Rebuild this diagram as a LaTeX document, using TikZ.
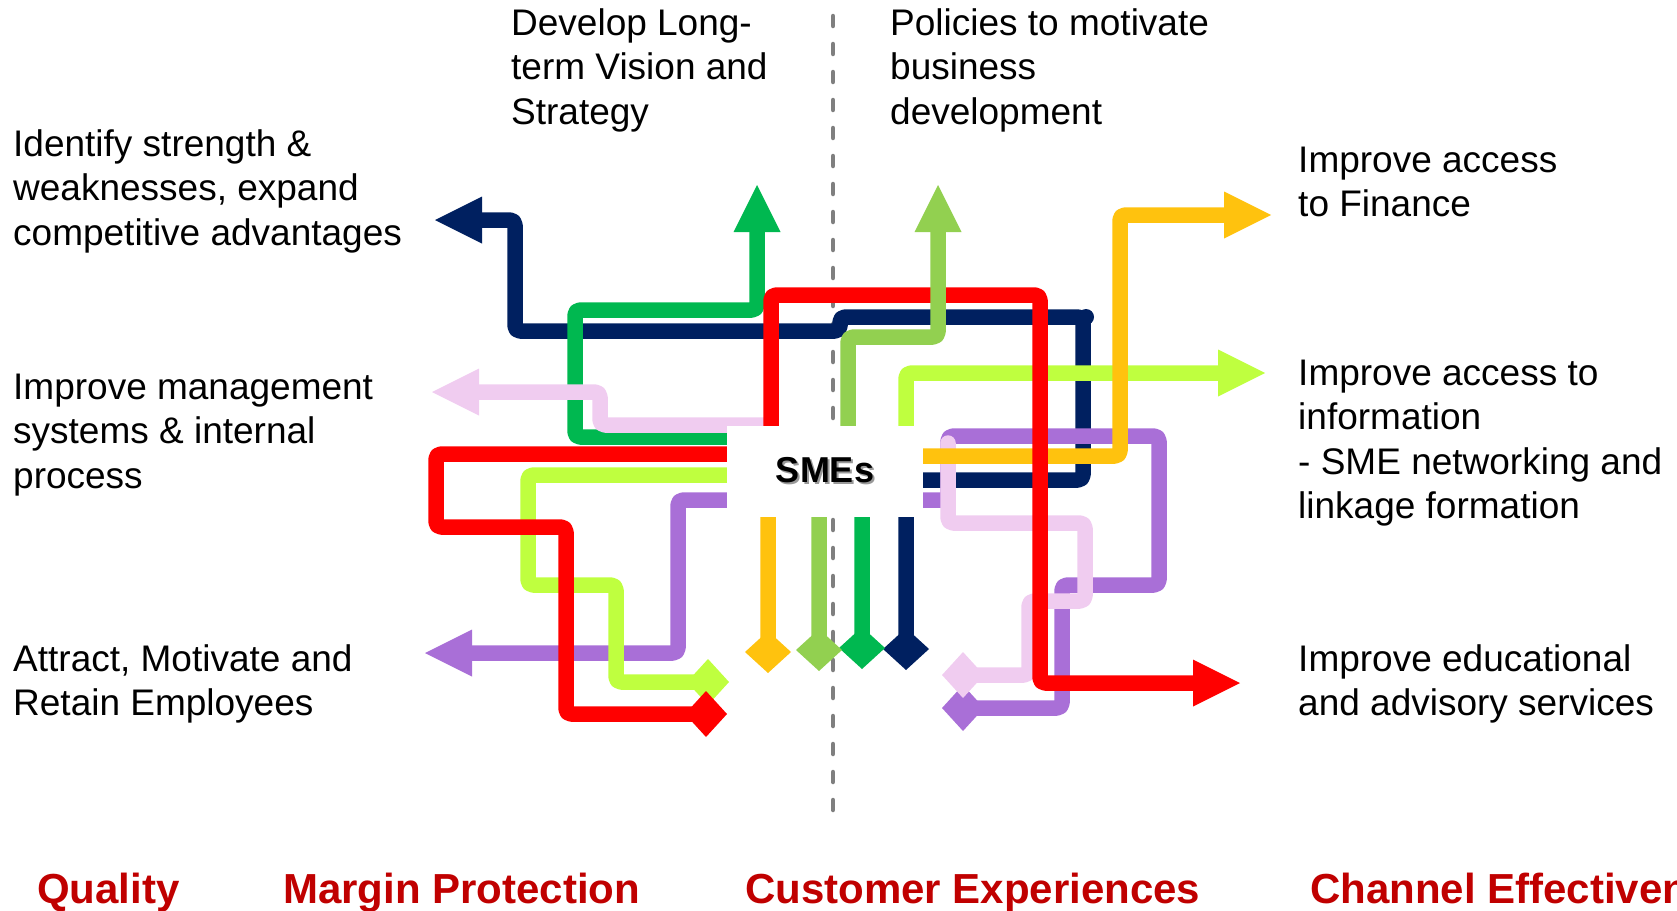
\documentclass[tikz,border=0pt]{standalone}
\usepackage{fontspec}
\setmainfont{Liberation Sans}
\usetikzlibrary{arrows.meta}
\definecolor{cnavy}{HTML}{002060}
\definecolor{cred}{HTML}{FF0000}
\definecolor{cgreen}{HTML}{00B850}
\definecolor{clgreen}{HTML}{92D050}
\definecolor{clime}{HTML}{BFFF3F}
\definecolor{corange}{HTML}{FFC20E}
\definecolor{cpurple}{HTML}{A96FD7}
\definecolor{cpink}{HTML}{F0CCF0}
\definecolor{cdark}{HTML}{C00000}
\definecolor{cdash}{HTML}{7F7F7F}
\tikzset{
  headT/.tip={Triangle[width=47pt 0 0,length=47pt 0 0,line width=0pt]},
  tailD/.tip={Diamond[width=46pt 0 0,length=42pt 0 0,line width=0pt]},
  flow/.style={line width=15.5pt, rounded corners=5pt, line join=round},
  divider/.style={draw=cdash, line width=4.5pt, line cap=round, dash pattern=on 10pt off 18pt},
  txt/.style={font=\fontsize{37}{44.5}\selectfont, anchor=base west, inner sep=0pt},
  lab/.style={font=\bfseries\fontsize{42}{50}\selectfont, text=cdark, anchor=base west, inner sep=0pt},
  hub/.style={fill=white, draw=none, minimum width=196pt, minimum height=91pt, inner sep=0pt,
              font=\bfseries\fontsize{36}{40}\selectfont}
}
\newcommand{\shadowtext}[1]{\rlap{\hspace{2pt}\raisebox{-2pt}{\textcolor{black!40}{#1}}}#1}
\begin{document}
\begin{tikzpicture}[x=1pt,y=-1pt]
\useasboundingbox (0,0) rectangle (1677,910);

% divider
\coordinate (dtop) at (833,16);
\coordinate (dbot) at (833,813);
\draw[divider] (dtop) -- (dbot);

% end points
\coordinate (navyS) at (906,670);   \coordinate (navyE) at (435,220);
\coordinate (greenS) at (862,669);  \coordinate (greenE) at (757,185);
\coordinate (lgrS) at (819,671);    \coordinate (lgrE) at (938,185);
\coordinate (orS) at (768,673);     \coordinate (orE) at (1271,215);
\coordinate (limeS) at (729,682);   \coordinate (limeE) at (1265,373);
\coordinate (purS) at (942,708);    \coordinate (purE) at (425,653);
\coordinate (pinkS) at (942,675);   \coordinate (pinkM) at (948,443);
\coordinate (pinkB) at (765,425);   \coordinate (pinkE) at (432,392);
\coordinate (redS) at (727,714);    \coordinate (redE) at (1240,683);

% navy
\draw[flow, cnavy, {tailD}-{headT}]
  (navyS) -- (906,480) -- (1083,480) -- (1083,317) -- (840,317) -- (840,331)
  -- (515,331) -- (515,220) -- (navyE);
\fill[cnavy] (1086,317) circle (8pt);
% green
\draw[flow, cgreen, {tailD}-{headT}]
  (greenS) -- (862,437) -- (575,437) -- (575,310) -- (757,310) -- (greenE);
% pink (left part)
\draw[flow, cpink, -{headT}]
  (pinkB) -- (600,425) -- (600,392) -- (pinkE);
% purple
\draw[flow, cpurple, {tailD}-{headT}]
  (purS) -- (1062,708) -- (1062,585) -- (1159,585) -- (1159,436) -- (948,436)
  -- (948,500) -- (678,500) -- (678,653) -- (purE);
% pink (right part)
\draw[flow, cpink, line cap=round, {tailD}-]
  (pinkS) -- (1029,675) -- (1029,601) -- (1085,601) -- (1085,523) -- (948,523) -- (pinkM);
% lime
\draw[flow, clime, {tailD}-{headT}]
  (limeS) -- (616,682) -- (616,585) -- (528,585) -- (528,475) -- (906,475)
  -- (906,373) -- (limeE);
% orange
\draw[flow, corange, {tailD}-{headT}]
  (orS) -- (768,456) -- (1120,456) -- (1120,215) -- (orE);
% red
\draw[flow, cred, {tailD}-{headT}]
  (redS) -- (566,714) -- (566,527) -- (436,527) -- (436,454) -- (771,454)
  -- (771,295) -- (1040,295) -- (1040,683) -- (redE);
% light green
\draw[flow, clgreen, {tailD}-{headT}]
  (lgrS) -- (819,470) -- (848,470) -- (848,337) -- (938,337) -- (lgrE);

% hub
\node[hub] (sme) at (825,471.5) {\shadowtext{SMEs}};

% texts
\node[txt] (t1) at (13,156) {\begin{tabular}[t]{@{}l@{}}Identify strength \&\\weaknesses, expand\\competitive advantages\end{tabular}};
\node[txt] (t2) at (13,399) {\begin{tabular}[t]{@{}l@{}}Improve management\\systems \& internal\\process\end{tabular}};
\node[txt] (t3) at (13,671) {\begin{tabular}[t]{@{}l@{}}Attract, Motivate and\\Retain Employees\end{tabular}};
\node[txt] (t4) at (511,35) {\begin{tabular}[t]{@{}l@{}}Develop Long-\\term Vision and\\Strategy\end{tabular}};
\node[txt] (t5) at (890,35) {\begin{tabular}[t]{@{}l@{}}Policies to motivate\\business\\development\end{tabular}};
\node[txt] (t6) at (1298,172) {\begin{tabular}[t]{@{}l@{}}Improve access\\to Finance\end{tabular}};
\node[txt] (t7) at (1298,385) {\begin{tabular}[t]{@{}l@{}}Improve access to\\information\\- SME networking and\\linkage formation\end{tabular}};
\node[txt] (t8) at (1298,671) {\begin{tabular}[t]{@{}l@{}}Improve educational\\and advisory services\end{tabular}};

% bottom labels
\node[lab] (b1) at (37,903) {Quality};
\node[lab] (b2) at (283,903) {Margin Protection};
\node[lab] (b3) at (745,903) {Customer Experiences};
\node[lab] (b4) at (1310,903) {Channel Effectiveness};
\end{tikzpicture}
\end{document}
